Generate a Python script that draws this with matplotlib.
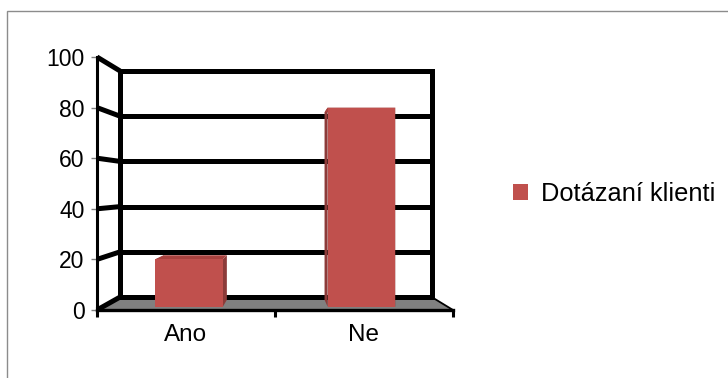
import matplotlib.pyplot as plt
from matplotlib.patches import Polygon, Patch, Rectangle

categories = ['Ano', 'Ne']
values = [20, 80]
series_name = 'Dotázaní klienti'
yticks = [0, 20, 40, 60, 80, 100]

bar_color = '#C0504D'
side_color = '#8C3B39'
top_color = '#A9423F'
floor_color = '#808080'

plt.rcParams['font.family'] = ['Liberation Sans', 'DejaVu Sans']

# oblique view: back wall is the front plane shrunk toward a point
SX, X0 = 0.876, 0.129
SY, Y0 = 0.894, 5.1


def proj(x, v, d):
    """point (x, v) pushed back by depth fraction d (0 = front, 1 = back wall)"""
    return (x + d * (X0 + SX * x - x), v + d * (Y0 + SY * v - v))


fig = plt.figure(figsize=(7.28, 3.78), dpi=100)
ax = fig.add_axes([97 / 728, 68 / 378, 356 / 728, 253 / 378])
ax.set_xlim(0, 2)
ax.set_ylim(0, 100)
ax.patch.set_alpha(0)

grid_lw = 3.6
nx = len(categories)

# floor
floor = [proj(0, 0, 0), proj(nx, 0, 0), proj(nx, 0, 1), proj(0, 0, 1)]
ax.add_patch(Polygon(floor, closed=True, fc=floor_color, ec='none', zorder=1))
ax.plot(*zip(proj(nx, 0, 0), proj(nx, 0, 1)), color='black', lw=1.3, zorder=2,
        clip_on=False)

# back wall and side wall gridlines
for v in yticks:
    ax.plot(*zip(proj(0, v, 1), proj(nx, v, 1)), color='black', lw=grid_lw,
            solid_capstyle='projecting', zorder=2, clip_on=False)
    ax.plot(*zip(proj(0, v, 0), proj(0, v, 1)), color='black', lw=grid_lw,
            solid_capstyle='butt', zorder=2, clip_on=False)
for x in (0, nx):
    ax.plot(*zip(proj(x, 0, 1), proj(x, 100, 1)), color='black', lw=grid_lw,
            solid_capstyle='projecting', zorder=2, clip_on=False)

# 3d columns
d_front, d_back = 0.25, 0.8
width = 0.38
base = proj(0, 0, d_front)[1]
centers = [proj(i + 0.5, 0, d_front)[0] for i in range(nx)]
for xc, v in zip(centers, values):
    xl, xr = xc - width / 2, xc + width / 2
    dd = d_back - d_front
    for xe in (xl, xr):
        side = [(xe, base), (xe, v), proj(xe, v, dd), proj(xe, base, dd)]
        ax.add_patch(Polygon(side, closed=True, fc=side_color, ec='none', zorder=3))
    top = [(xl, v), (xr, v), proj(xr, v, dd), proj(xl, v, dd)]
    ax.add_patch(Polygon(top, closed=True, fc=top_color, ec='none', zorder=3))
ax.bar(centers, [v - base for v in values], bottom=base, width=width,
       color=bar_color, zorder=4)

# axes
for s in ('top', 'right'):
    ax.spines[s].set_visible(False)
ax.spines['left'].set_linewidth(2.2)
ax.spines['left'].set_zorder(5)
ax.spines['bottom'].set_linewidth(2.4)
ax.spines['bottom'].set_zorder(5)

ax.set_yticks(yticks)
ax.tick_params(axis='y', length=4, width=1, color='#808080', labelsize=16.5, pad=5)
ax.set_xticks(range(nx + 1))
ax.set_xticklabels([])
ax.set_xticks([i + 0.5 for i in range(nx)], minor=True)
ax.set_xticklabels(categories, minor=True)
ax.tick_params(axis='x', which='major', length=5, width=2.2, color='black')
ax.tick_params(axis='x', which='minor', length=0, labelsize=17.5, pad=10)

# legend
fig.legend(handles=[Patch(fc=bar_color, ec='none')], labels=[series_name],
           loc='center left', bbox_to_anchor=(503 / 728, 1 - 194 / 378),
           frameon=False, fontsize=18.3, handlelength=0.6, handleheight=0.6,
           handletextpad=0.5, borderaxespad=0)

# chart frame
fig.add_artist(Rectangle((7 / 728, -0.1), 1.0, (378 - 11) / 378 + 0.1,
                         transform=fig.transFigure, fill=False, ec='#8c8c8c', lw=1))

fig.savefig('out.png', dpi=100, facecolor='white')
